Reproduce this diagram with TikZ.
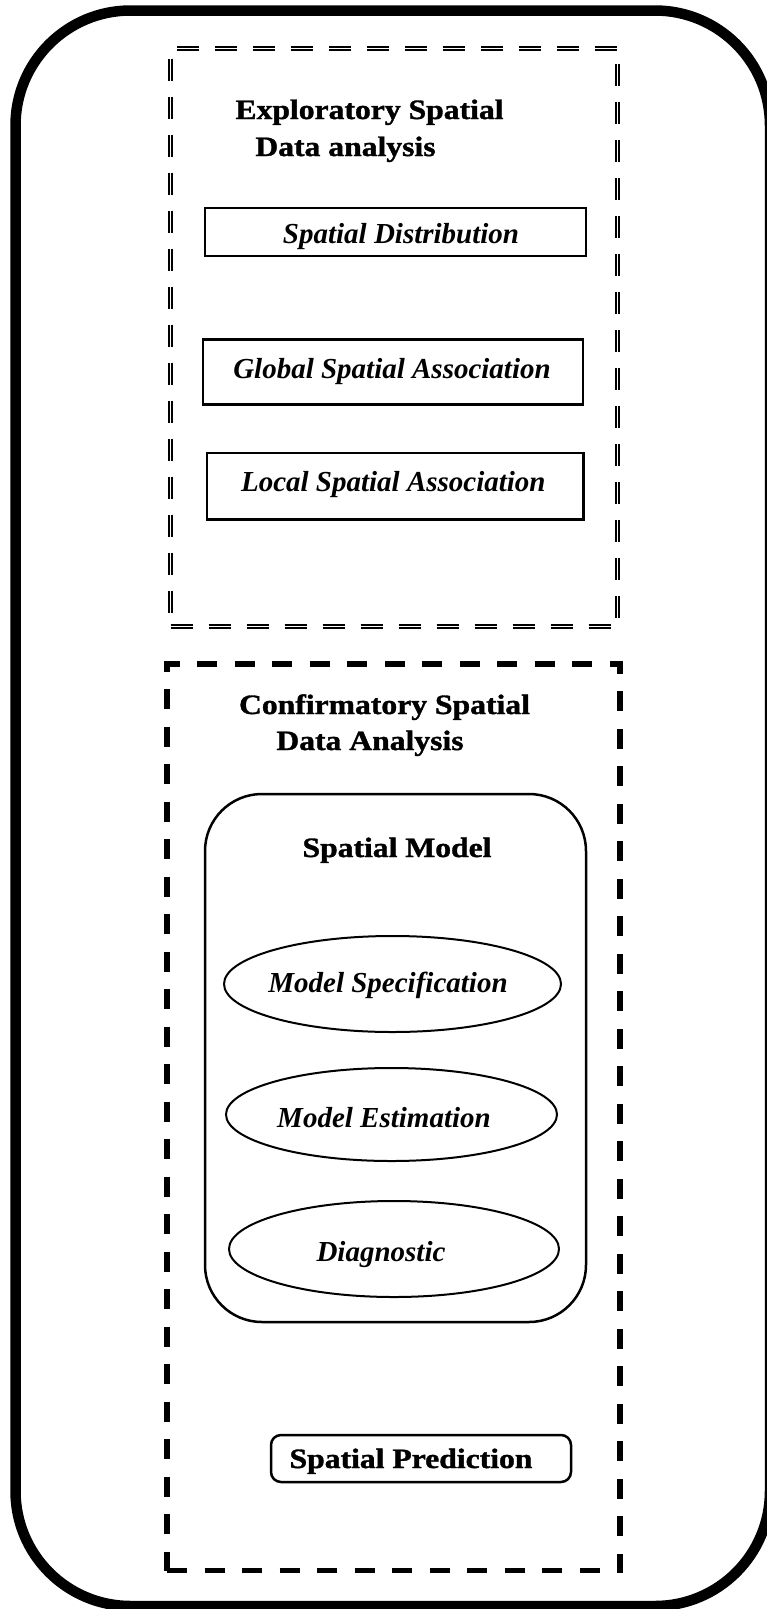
\documentclass[tikz,border=0pt]{standalone}
\usepackage{fontspec}
\usepackage{graphicx}
\setmainfont{Liberation Serif}
\newfontfamily\headfont[BoldFeatures={FakeBold=1.2}]{Liberation Serif}
\usetikzlibrary{shapes.geometric}
\begin{document}
\begin{tikzpicture}[x=1pt,y=-1pt,
  boldtxt/.style={inner sep=0pt, anchor=base, font=\headfont\fontsize{28}{32}\selectfont\bfseries},
  ittxt/.style={inner sep=0pt, anchor=base, font=\fontsize{29}{34}\selectfont\bfseries\itshape},
  sqbox/.style={draw, rectangle, line width=2.7pt, inner sep=0pt},
  ovalbox/.style={draw, ellipse, line width=2pt, inner sep=0pt},
  groupdouble/.style={draw, rectangle, inner sep=0pt, line width=1.8pt, double, double distance=1.4pt, dash pattern=on 22pt off 16pt},
  groupthick/.style={draw, rectangle, inner sep=0pt, line width=5.5pt, dash pattern=on 20pt off 17.5pt},
]
\useasboundingbox (0,0) rectangle (766,1609);
% outer frame
\node[draw, rectangle, line width=10.5pt, rounded corners=115pt, inner sep=0pt,
      minimum width=754.5pt, minimum height=1595.5pt] (outer) at (392.75,808.25) {};
% ESDA group
\node[groupdouble, minimum width=447pt, minimum height=578pt] (esda) at (394,337.5) {};
\node[boldtxt] (esdaA) at (369.5,119) {\scalebox{1.13}[1]{Exploratory Spatial}};
\node[boldtxt] (esdaB) at (345.5,156) {\scalebox{1.13}[1]{Data analysis}};
\node[sqbox, minimum width=381pt, minimum height=48pt] (sd) at (395.5,232) {};
\node[ittxt] (sdT) at (401,243) {Spatial Distribution};
\node[sqbox, minimum width=380pt, minimum height=65pt] (gsa) at (393,372) {};
\node[ittxt] (gsaT) at (392,378) {Global Spatial Association};
\node[sqbox, minimum width=376.5pt, minimum height=66.5pt] (lsa) at (395.25,486.25) {};
\node[ittxt] (lsaT) at (393.3,491.7) {Local Spatial Association};
% CSDA group
\node[groupthick, minimum width=453pt, minimum height=906.5pt] (csda) at (393.5,1117.25) {};
\node[boldtxt] (csdaA) at (384.5,714) {\scalebox{1.13}[1]{Confirmatory Spatial}};
\node[boldtxt] (csdaB) at (370,750) {\scalebox{1.13}[1]{Data Analysis}};
\node[draw, rectangle, line width=2.5pt, rounded corners=57pt, inner sep=0pt,
      minimum width=381pt, minimum height=528pt] (sm) at (395.5,1058) {};
\node[boldtxt] (smT) at (397,857) {\scalebox{1.13}[1]{Spatial Model}};
\node[ovalbox, minimum width=337pt, minimum height=96pt] (ms) at (392.5,984) {};
\node[ittxt] (msT) at (388,992) {Model Specification};
\node[ovalbox, minimum width=331pt, minimum height=93pt] (me) at (391.5,1114.5) {};
\node[ittxt] (meT) at (384,1127) {Model Estimation};
\node[ovalbox, minimum width=330pt, minimum height=96pt] (dg) at (394,1249) {};
\node[ittxt] (dgT) at (381,1261) {Diagnostic};
\node[draw, rectangle, line width=2.5pt, rounded corners=10pt, inner sep=0pt,
      minimum width=300pt, minimum height=47pt] (sp) at (421,1458.5) {};
\node[boldtxt] (spT) at (411,1468) {\scalebox{1.13}[1]{Spatial Prediction}};
\end{tikzpicture}
\end{document}
